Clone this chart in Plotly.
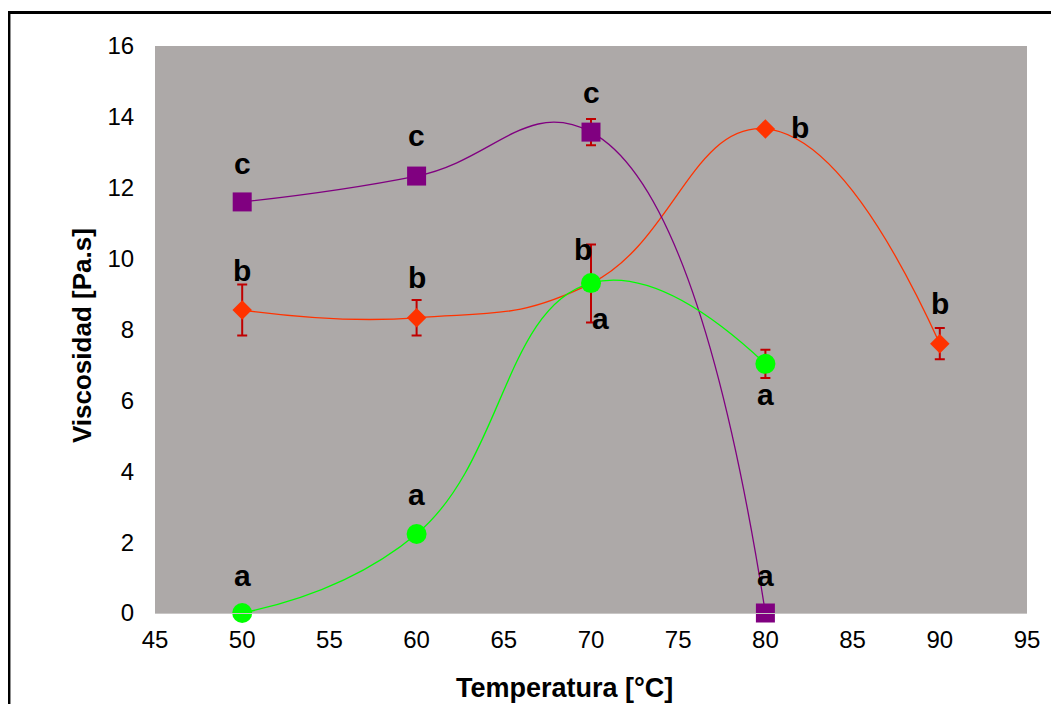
import plotly.graph_objects as go

# ---- data ----
temp_naranja = [50, 60, 70, 80, 90]
visc_naranja = [8.55, 8.33, 9.3, 13.66, 7.6]
err_naranja = [0.72, 0.5, 1.1, 0.0, 0.44]
let_naranja = ["b", "b", "b", "b", "b"]

temp_morado = [50, 60, 70, 80]
visc_morado = [11.6, 12.33, 13.57, 0.0]
err_morado = [0.0, 0.0, 0.37, 0.0]
let_morado = ["c", "c", "c", "a"]

temp_verde = [50, 60, 70, 80]
visc_verde = [0.0, 2.23, 9.31, 7.03]
err_verde = [0.0, 0.0, 0.0, 0.4]
let_verde = ["a", "a", "a", "a"]

x_ticks = [45, 50, 55, 60, 65, 70, 75, 80, 85, 90, 95]
y_ticks = [0, 2, 4, 6, 8, 10, 12, 14, 16]

x_title = "Temperatura [°C]"
y_title = "Viscosidad [Pa.s]"

# ---- label offsets (pixels) ----
off_naranja = [(0, 40), (0, 40), (-8, 34), (35, 1), (0, 40)]
off_morado = [(0, 38), (0, 41), (0, 40), (0, 38)]
off_verde = [(0, 38), (0, 39), (9, -35), (0, -31)]

FONT = "Liberation Sans, Arial, sans-serif"
ERR_COLOR = "#C00000"
SMOOTH = 1.3

fig = go.Figure()

fig.add_trace(go.Scatter(
    x=temp_naranja, y=visc_naranja, mode="lines+markers", cliponaxis=False,
    line=dict(color="#FF3300", width=1.3, shape="spline", smoothing=SMOOTH),
    marker=dict(symbol="diamond", size=15, color="#FF3300"),
    error_y=dict(type="data", array=err_naranja, visible=True,
                 color=ERR_COLOR, thickness=2, width=5),
    showlegend=False, name="naranja"))

fig.add_trace(go.Scatter(
    x=temp_morado, y=visc_morado, mode="lines+markers", cliponaxis=False,
    line=dict(color="#800080", width=1.3, shape="spline", smoothing=SMOOTH),
    marker=dict(symbol="square", size=19, color="#800080"),
    error_y=dict(type="data", array=err_morado, visible=True,
                 color=ERR_COLOR, thickness=2, width=5),
    showlegend=False, name="morado"))

fig.add_trace(go.Scatter(
    x=temp_verde, y=visc_verde, mode="lines+markers", cliponaxis=False,
    line=dict(color="#00FF00", width=1.3, shape="spline", smoothing=SMOOTH),
    marker=dict(symbol="circle", size=20, color="#00FF00"),
    error_y=dict(type="data", array=err_verde, visible=True,
                 color=ERR_COLOR, thickness=2, width=5),
    showlegend=False, name="verde"))

annotations = []
for xs, ys, ls, offs in [(temp_naranja, visc_naranja, let_naranja, off_naranja),
                         (temp_morado, visc_morado, let_morado, off_morado),
                         (temp_verde, visc_verde, let_verde, off_verde)]:
    for xv, yv, lt, (dx, dy) in zip(xs, ys, ls, offs):
        annotations.append(dict(
            x=xv, y=yv, xref="x", yref="y", text="<b>%s</b>" % lt,
            showarrow=False, xshift=dx, yshift=dy,
            xanchor="center", yanchor="middle",
            font=dict(family=FONT, size=30, color="black")))

# axis titles
annotations.append(dict(
    x=0.470, y=-0.132, xref="paper", yref="paper", text="<b>%s</b>" % x_title,
    showarrow=False, xanchor="center", yanchor="middle",
    font=dict(family=FONT, size=27, color="black")))
annotations.append(dict(
    x=-0.0837, y=0.4885, xref="paper", yref="paper", text="<b>%s</b>" % y_title,
    showarrow=False, xanchor="center", yanchor="middle", textangle=-90,
    font=dict(family=FONT, size=26, color="black")))

fig.update_layout(
    width=1051, height=696,
    margin=dict(l=147, r=32, t=38, b=91),
    paper_bgcolor="white",
    plot_bgcolor="#ADA9A8",
    font=dict(family=FONT, color="black"),
    annotations=annotations,
    shapes=[dict(type="rect", xref="paper", yref="paper",
                 x0=-0.1675, x1=1.06, y0=-0.2, y1=1.059,
                 line=dict(color="black", width=3), layer="below")],
    xaxis=dict(range=[45, 95], tickvals=x_ticks, showgrid=False, zeroline=False,
               automargin=False,
               showline=True, linecolor="#C8C6C5", linewidth=1,
               ticks="outside", ticklen=5, tickcolor="rgba(0,0,0,0)",
               tickfont=dict(family=FONT, size=24, color="black")),
    yaxis=dict(range=[0, 16], tickvals=y_ticks, showgrid=False, zeroline=False,
               automargin=False, showline=False,
               ticks="outside", ticklen=15, tickcolor="rgba(0,0,0,0)",
               tickfont=dict(family=FONT, size=24, color="black")),
)

fig.write_html("out.html")
